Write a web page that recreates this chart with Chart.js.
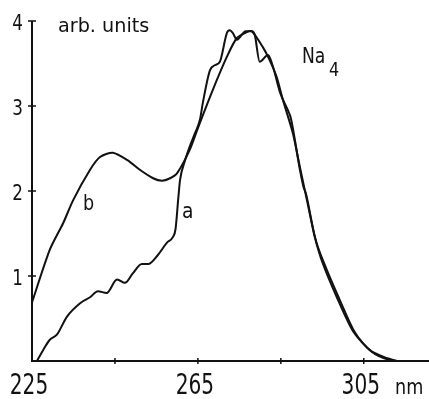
<!DOCTYPE html>
<html>
<head>
<meta charset="utf-8">
<script src="https://cdn.jsdelivr.net/npm/chart.js@4/dist/chart.umd.min.js"></script>
<style>
  html, body { margin: 0; padding: 0; background: #fff; }
  canvas { display: block; }
</style>
</head>
<body>
<canvas id="spectrum" width="429" height="399"></canvas>
<script>
// wavelength (nm) / intensity (arb. units)
const waveA = [226.2, 227.7, 229.3, 231, 233.4, 236.6, 239, 240.9, 243, 245.5, 247.4, 249.3, 251.5, 253, 255.4, 257.5, 259, 259.6, 260.3, 260.7, 261.9, 263, 264.3, 265.5, 266.2, 267.9, 269.1, 270.3, 272, 272.7, 273.4, 274.4, 276.5, 278, 278.7, 279.9, 281.9, 283, 284.8, 286.7, 287.4, 289.6, 290.5, 291, 293.2, 295.6, 299.2, 302.8, 306.9, 311.3, 313];
const valA  = [0, 0.13, 0.25, 0.31, 0.52, 0.68, 0.75, 0.82, 0.80, 0.96, 0.92, 1.03, 1.14, 1.14, 1.25, 1.39, 1.46, 1.55, 1.93, 2.13, 2.36, 2.52, 2.68, 2.84, 3.04, 3.42, 3.48, 3.52, 3.86, 3.89, 3.86, 3.78, 3.88, 3.88, 3.84, 3.52, 3.60, 3.48, 3.16, 2.95, 2.86, 2.25, 2.04, 1.98, 1.46, 1.13, 0.72, 0.34, 0.11, 0.01, 0];

const waveB = [225, 229.3, 232.5, 234.9, 239, 241.4, 244.5, 248.1, 251, 254.2, 256.3, 258.3, 260, 263, 265, 268.6, 272, 274.4, 276.8, 278, 280.7, 282.3, 284, 285.5, 287.9, 289.6, 291.3, 293.2, 295.1, 298.5, 302.3, 306.4, 310.5, 313];
const valB  = [0.69, 1.31, 1.62, 1.89, 2.25, 2.40, 2.45, 2.36, 2.25, 2.15, 2.12, 2.15, 2.21, 2.48, 2.74, 3.19, 3.58, 3.80, 3.87, 3.88, 3.69, 3.54, 3.34, 3.07, 2.68, 2.28, 1.89, 1.46, 1.15, 0.75, 0.36, 0.13, 0.035, 0];

const xTicks = [225, 245, 265, 285, 305];
const xTickLabels = ['225', '', '265', '', '305'];
const yTicks = [1, 2, 3, 4];

const INK = '#111';

function pairs(xs, ys) {
  return xs.map((x, i) => ({ x: x, y: ys[i] }));
}

// narrow lettering like the stencil font in the original
function drawText(ctx, txt, x, y, size, sx, align) {
  ctx.save();
  ctx.font = size + 'px "DejaVu Sans"';
  ctx.fillStyle = INK;
  ctx.textBaseline = 'alphabetic';
  const w = ctx.measureText(txt).width * sx;
  let left = x;
  if (align === 'center') left = x - w / 2;
  if (align === 'right') left = x - w;
  ctx.translate(left, y);
  ctx.scale(sx, 1);
  ctx.fillText(txt, 0, 0);
  ctx.restore();
}

const axesPlugin = {
  id: 'handAxes',
  afterDraw(chart) {
    const ctx = chart.ctx;
    const xs = chart.scales.x, ys = chart.scales.y;
    const area = chart.chartArea;
    ctx.save();
    ctx.strokeStyle = INK;
    ctx.lineWidth = 2;
    ctx.lineCap = 'butt';
    // axes
    ctx.beginPath();
    ctx.moveTo(area.left, ys.getPixelForValue(4));
    ctx.lineTo(area.left, area.bottom);
    ctx.lineTo(chart.width, area.bottom);
    ctx.stroke();
    ctx.lineWidth = 1.5;
    // y ticks cross the axis
    yTicks.forEach(v => {
      const py = ys.getPixelForValue(v);
      ctx.beginPath();
      ctx.moveTo(area.left - 4, py);
      ctx.lineTo(area.left + 4, py);
      ctx.stroke();
      drawText(ctx, String(v), area.left - 9, py + 9, 21, 0.8, 'right');
    });
    // x ticks
    xTicks.forEach((v, i) => {
      const px = xs.getPixelForValue(v);
      if (i > 0) {
        ctx.beginPath();
        ctx.moveTo(px, area.bottom - 3);
        ctx.lineTo(px, area.bottom + 3);
        ctx.stroke();
      }
      if (xTickLabels[i]) drawText(ctx, xTickLabels[i], px - 3, area.bottom + 33, 28, 0.72, 'center');
    });
    drawText(ctx, 'nm', 395, area.bottom + 33, 22, 0.8, 'left');
    drawText(ctx, 'arb. units', 58, 32, 20, 0.96, 'left');
    drawText(ctx, 'Na', 302, 63, 22, 0.78, 'left');
    drawText(ctx, '4', 329, 76, 20, 0.8, 'left');
    drawText(ctx, 'b', 83, 210, 22, 0.8, 'left');
    drawText(ctx, 'a', 182, 218, 22, 0.85, 'left');
    ctx.restore();
  }
};

new Chart(document.getElementById('spectrum').getContext('2d'), {
  type: 'line',
  data: {
    datasets: [
      { label: 'a', data: pairs(waveA, valA), borderColor: INK, borderWidth: 2, cubicInterpolationMode: 'monotone', pointRadius: 0, fill: false },
      { label: 'b', data: pairs(waveB, valB), borderColor: INK, borderWidth: 2, tension: 0.25, pointRadius: 0, fill: false }
    ]
  },
  options: {
    responsive: false,
    animation: false,
    layout: { padding: { left: 32, top: 21, right: 3, bottom: 38 } },
    scales: {
      x: { type: 'linear', min: 225, max: 320, display: false },
      y: { min: 0, max: 4, display: false }
    },
    plugins: { legend: { display: false }, tooltip: { enabled: false } },
    elements: { line: { borderJoinStyle: 'round' } }
  },
  plugins: [axesPlugin]
});
</script>
</body>
</html>
